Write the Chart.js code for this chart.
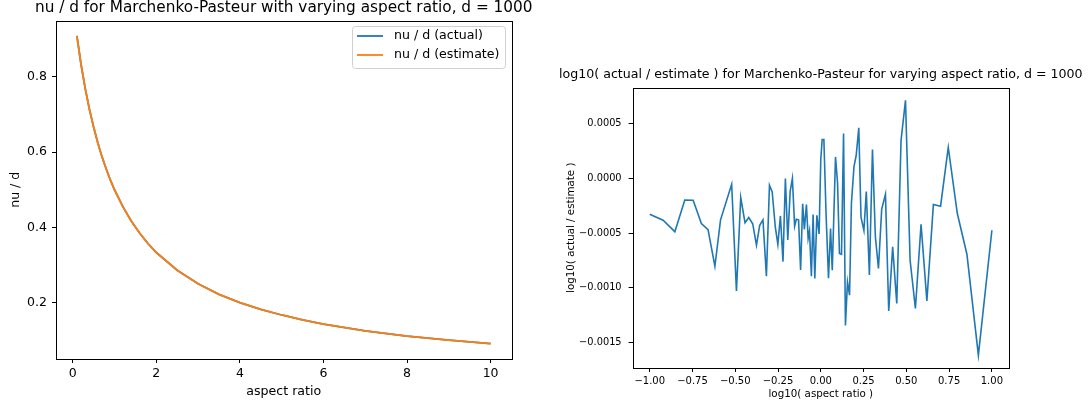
<!DOCTYPE html>
<html><head><meta charset="utf-8">
<script src="https://cdn.jsdelivr.net/npm/chart.js@4.4.1/dist/chart.umd.min.js"></script>
<style>
html,body{margin:0;padding:0;background:#fff;width:1091px;height:407px;overflow:hidden}
#c1{position:absolute;left:0;top:0}
#c2{position:absolute;left:545px;top:0}
</style></head><body>
<canvas id="c1" width="545" height="407"></canvas>
<canvas id="c2" width="546" height="407"></canvas>
<script>
// ---- left chart data ----
const aspectRatio = [0.1,0.2,0.3,0.4,0.5,0.6,0.7,0.8,0.9,1.0,1.2,1.4,1.6,1.8,2.0,2.5,3.0,3.5,4.0,4.5,5.0,5.5,6.0,7.0,8.0,9.0,10.0];
const nuActual   = [0.909,0.833,0.769,0.714,0.667,0.625,0.588,0.556,0.526,0.500,0.455,0.417,0.385,0.357,0.333,0.286,0.250,0.222,0.200,0.182,0.167,0.154,0.143,0.125,0.111,0.100,0.091];
const nuEstimate = [0.909,0.833,0.769,0.714,0.667,0.625,0.588,0.556,0.526,0.500,0.455,0.417,0.385,0.357,0.333,0.286,0.250,0.222,0.200,0.182,0.167,0.154,0.143,0.125,0.111,0.100,0.091];
const leftXTicks = [0,2,4,6,8,10];
const leftXLabels = ['0','2','4','6','8','10'];
const leftYTicks = [0.2,0.4,0.6,0.8];
const leftYLabels = ['0.2','0.4','0.6','0.8'];

// ---- right chart data ----
const logAspect = [-1.000,-0.922,-0.853,-0.795,-0.746,-0.698,-0.659,-0.619,-0.586,-0.521,-0.493,-0.468,-0.443,-0.421,-0.398,-0.376,-0.357,-0.338,-0.318,-0.300,-0.284,-0.266,-0.251,-0.236,-0.221,-0.207,-0.193,-0.179,-0.166,-0.153,-0.143,-0.130,-0.118,-0.106,-0.096,-0.084,-0.074,-0.066,-0.055,-0.045,-0.035,-0.023,-0.010,0.000,0.008,0.018,0.031,0.045,0.057,0.067,0.086,0.098,0.109,0.121,0.133,0.144,0.156,0.168,0.179,0.194,0.207,0.222,0.235,0.252,0.266,0.284,0.302,0.319,0.337,0.356,0.378,0.397,0.420,0.444,0.469,0.495,0.522,0.553,0.586,0.620,0.658,0.700,0.745,0.798,0.854,0.921,1.000];
const logRatio = [-3.27,-3.82,-4.87,-1.98,-1.99,-4.12,-4.69,-8.03,-3.79,-0.53,-10.29,-1.75,-4.05,-3.57,-4.14,-6.11,-4.28,-3.79,-8.94,-0.62,-1.23,-4.44,-6.04,-3.43,-7.61,0.00,-5.62,-1.19,0.00,-4.37,-3.73,-3.78,-8.38,-2.31,-4.66,-2.38,-5.50,-4.80,-8.94,-3.29,-9.15,-3.38,-5.08,1.77,3.56,3.56,-3.37,-9.13,-4.58,-8.40,1.97,-0.44,-6.87,-6.95,4.11,-13.44,-9.47,-10.68,-2.27,1.09,2.12,4.64,-3.55,-4.76,-1.20,-8.83,2.64,-5.35,-8.24,-2.80,-1.44,-12.13,-6.26,-11.44,3.49,7.15,-7.48,-11.90,-4.19,-11.20,-2.39,-2.54,2.83,-3.21,-6.93,-16.17,-4.74].map(v => v * 1e-4);
const rightXTicks = [-1,-0.75,-0.5,-0.25,0,0.25,0.5,0.75,1];
const rightXLabels = ['\u22121.00','\u22120.75','\u22120.50','\u22120.25','0.00','0.25','0.50','0.75','1.00'];
const rightYTicks = [-0.0015,-0.001,-0.0005,0,0.0005];
const rightYLabels = ['\u22120.0015','\u22120.0010','\u22120.0005','0.0000','0.0005'];

Chart.defaults.font.family = 'DejaVu Sans';
Chart.defaults.color = '#000';

const FONT = 'DejaVu Sans';

function fixedTicks(values) {
  return s => { s.ticks = values.map(v => ({value: v})); };
}

function framePlugin() {
  return {
    id: 'frame',
    afterDraw(chart) {
      const a = chart.chartArea, ctx = chart.ctx;
      ctx.save();
      ctx.strokeStyle = '#000';
      ctx.lineWidth = 1;
      ctx.strokeRect(Math.round(a.left) + 0.5, Math.round(a.top) + 0.5,
        Math.round(a.right) - Math.round(a.left), Math.round(a.bottom) - Math.round(a.top));
      ctx.restore();
    }
  };
}

function titlePlugin(text, size, y) {
  return {
    id: 'ttl',
    afterDraw(chart) {
      const a = chart.chartArea, ctx = chart.ctx;
      ctx.save();
      ctx.font = size + 'px "' + FONT + '"';
      ctx.fillStyle = '#000';
      ctx.textAlign = 'center';
      ctx.textBaseline = 'middle';
      ctx.fillText(text, (a.left + a.right) / 2, y);
      ctx.restore();
    }
  };
}

const legendPlugin = {
  id: 'lgd',
  afterDraw(chart) {
    const ctx = chart.ctx;
    ctx.save();
    const x = 352.5, y = 26.5, w = 153, h = 42, r = 3;
    ctx.beginPath();
    ctx.moveTo(x + r, y);
    ctx.arcTo(x + w, y, x + w, y + h, r);
    ctx.arcTo(x + w, y + h, x, y + h, r);
    ctx.arcTo(x, y + h, x, y, r);
    ctx.arcTo(x, y, x + w, y, r);
    ctx.closePath();
    ctx.fillStyle = 'rgba(255,255,255,0.8)';
    ctx.fill();
    ctx.strokeStyle = '#d0d0d0';
    ctx.lineWidth = 1;
    ctx.stroke();
    const rows = [36, 55];
    chart.data.datasets.forEach((ds, i) => {
      ctx.strokeStyle = ds.borderColor;
      ctx.lineWidth = 1.8;
      ctx.beginPath();
      ctx.moveTo(357, rows[i]);
      ctx.lineTo(383, rows[i]);
      ctx.stroke();
      ctx.fillStyle = '#000';
      ctx.font = '12.6px "' + FONT + '"';
      ctx.textAlign = 'left';
      ctx.textBaseline = 'middle';
      ctx.fillText(ds.label, 394, rows[i]);
    });
    ctx.restore();
  }
};

// ---- left chart ----
new Chart(document.getElementById('c1'), {
  type: 'line',
  data: {
    datasets: [
      {label: 'nu / d (actual)', data: aspectRatio.map((v, i) => ({x: v, y: nuActual[i]})), order: 2,
       borderColor: '#1f77b4', borderWidth: 1.8, pointRadius: 0, fill: false, tension: 0},
      {label: 'nu / d (estimate)', data: aspectRatio.map((v, i) => ({x: v, y: nuEstimate[i]})), order: 1,
       borderColor: '#ff7f0e', borderWidth: 1.8, pointRadius: 0, fill: false, tension: 0}
    ]
  },
  options: {
    responsive: false, animation: false, devicePixelRatio: 1,
    layout: {padding: {left: 0, top: 20.5, right: 33.5, bottom: 0}},
    plugins: {legend: {display: false}, tooltip: {enabled: false}, title: {display: false}},
    scales: {
      x: {
        type: 'linear', min: -0.4, max: 10.5,
        afterBuildTicks: fixedTicks(leftXTicks),
        afterFit: s => { s.height = 48; },
        grid: {drawOnChartArea: false, drawTicks: true, tickLength: 4, color: '#000'},
        border: {display: false},
        ticks: {font: {size: 12.5}, padding: 3.5, maxRotation: 0, autoSkip: false,
                callback: (v, i) => leftXLabels[i]},
        title: {display: true, text: 'aspect ratio', font: {size: 12.6}, padding: {top: 0, bottom: 8}}
      },
      y: {
        type: 'linear', min: 0.05, max: 0.95,
        afterBuildTicks: fixedTicks(leftYTicks),
        afterFit: s => { s.width = 56; },
        grid: {drawOnChartArea: false, drawTicks: true, tickLength: 4, color: '#000'},
        border: {display: false},
        ticks: {font: {size: 12.5}, padding: 5, autoSkip: false,
                callback: (v, i) => leftYLabels[i]},
        title: {display: true, text: 'nu / d', font: {size: 12.6}, padding: {top: 8.5, bottom: 0}}
      }
    }
  },
  plugins: [framePlugin(), titlePlugin('nu / d for Marchenko-Pasteur with varying aspect ratio, d = 1000', 15.3, 8.5), legendPlugin]
});

// ---- right chart ----
new Chart(document.getElementById('c2'), {
  type: 'line',
  data: {
    datasets: [
      {label: 'log ratio', data: logAspect.map((v, i) => ({x: v, y: logRatio[i]})),
       borderColor: '#1f77b4', borderWidth: 1.6, pointRadius: 0, fill: false, tension: 0}
    ]
  },
  options: {
    responsive: false, animation: false, devicePixelRatio: 1,
    layout: {padding: {left: 0, top: 87.5, right: 82, bottom: 0}},
    plugins: {legend: {display: false}, tooltip: {enabled: false}, title: {display: false}},
    scales: {
      x: {
        type: 'linear', min: -1.1, max: 1.1,
        afterBuildTicks: fixedTicks(rightXTicks),
        afterFit: s => { s.height = 39; },
        grid: {drawOnChartArea: false, drawTicks: true, tickLength: 4, color: '#000'},
        border: {display: false},
        ticks: {font: {size: 10}, padding: 3, maxRotation: 0, autoSkip: false,
                callback: (v, i) => rightXLabels[i]},
        title: {display: true, text: 'log10( aspect ratio )', font: {size: 10.3}, padding: {top: 0, bottom: 6.5}}
      },
      y: {
        type: 'linear', min: -0.001734, max: 0.000832,
        afterBuildTicks: fixedTicks(rightYTicks),
        afterFit: s => { s.width = 87.6; },
        grid: {drawOnChartArea: false, drawTicks: true, tickLength: 4, color: '#000'},
        border: {display: false},
        ticks: {font: {size: 9.8}, padding: 7, autoSkip: false,
                callback: (v, i) => rightYLabels[i]},
        title: {display: true, text: 'log10( actual / estimate )', font: {size: 10.3}, padding: {top: 20, bottom: 0}}
      }
    }
  },
  plugins: [framePlugin(), titlePlugin('log10( actual / estimate ) for Marchenko-Pasteur for varying aspect ratio, d = 1000', 12.6, 75)]
});
</script>
</body></html>
